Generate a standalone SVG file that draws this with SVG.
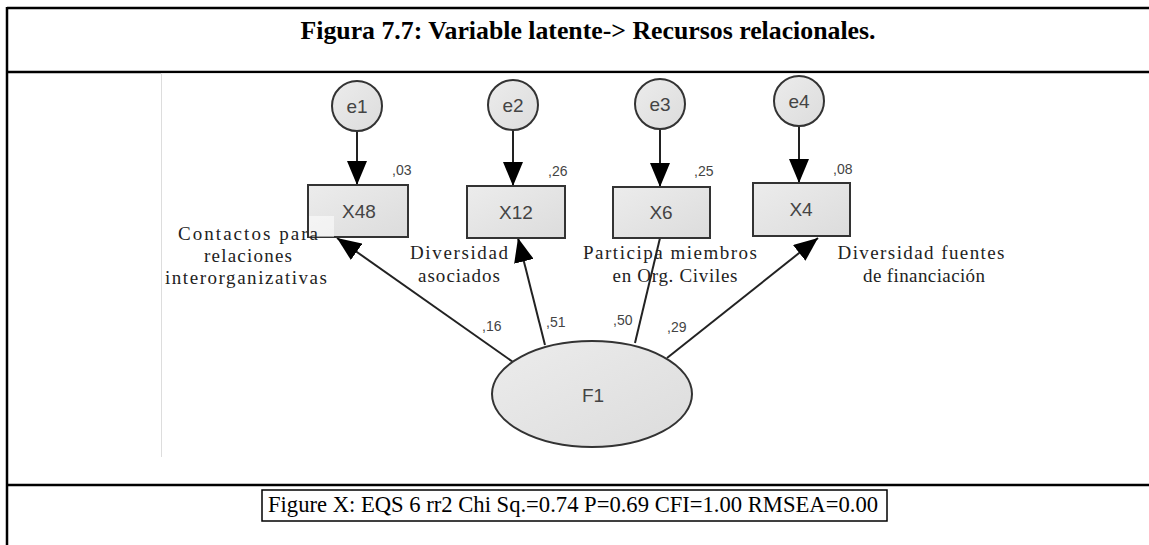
<svg xmlns="http://www.w3.org/2000/svg" width="1149" height="545" viewBox="0 0 1149 545">
<defs>
<style>
.frame{stroke:#000;stroke-width:2.5;fill:none}
.node{fill:url(#gr);stroke:#333;stroke-width:2}
.ntext{font-family:"Liberation Sans",Arial,sans-serif;font-size:19px;fill:#444;text-anchor:middle}
.coef{font-family:"Liberation Sans",Arial,sans-serif;font-size:14px;fill:#444}
.lab{font-family:"Liberation Serif","Times New Roman",serif;font-size:19px;fill:#222;text-anchor:middle}
.edge{stroke:#222;stroke-width:2;fill:none}
</style>
<linearGradient id="gr" x1="0" y1="0" x2="1" y2="1">
<stop offset="0" stop-color="#ececec"/>
<stop offset="1" stop-color="#dcdcdc"/>
</linearGradient>
<marker id="ahb" viewBox="0 0 24 20" refX="24" refY="10" markerWidth="24" markerHeight="20" markerUnits="userSpaceOnUse" orient="auto">
<path d="M0,0 L24,10 L0,20 z" fill="#000"/>
</marker>
</defs>
<rect width="1149" height="545" fill="#fff"/>
<g id="frame">
<line class="frame" x1="7" y1="8" x2="1149" y2="8"/>
<line class="frame" x1="7" y1="7" x2="7" y2="545"/>
<line class="frame" x1="7" y1="72" x2="1149" y2="72"/>
<line class="frame" x1="7" y1="485" x2="1149" y2="485"/>
<line x1="161.5" y1="73" x2="161.5" y2="457" stroke="#ddd" stroke-width="1"/>
<line x1="161" y1="73.5" x2="1010" y2="73.5" stroke="#e6e6e6" stroke-width="1"/>
</g>
<g id="title">
<text x="588" y="39" font-family="Liberation Serif,'Times New Roman',serif" font-weight="bold" font-size="26" text-anchor="middle" textLength="575" lengthAdjust="spacingAndGlyphs">Figura 7.7: Variable latente-&gt; Recursos relacionales.</text>
</g>
<g id="connectors">
<line class="edge" x1="357" y1="131" x2="357" y2="185" marker-end="url(#ahb)"/>
<line class="edge" x1="513" y1="130" x2="513" y2="186" marker-end="url(#ahb)"/>
<line class="edge" x1="660" y1="129" x2="660" y2="187" marker-end="url(#ahb)"/>
<line class="edge" x1="799" y1="126" x2="799" y2="183" marker-end="url(#ahb)"/>
<line class="edge" x1="513" y1="362" x2="337" y2="238" marker-end="url(#ahb)"/>
<line class="edge" x1="545" y1="345" x2="518" y2="238" marker-end="url(#ahb)"/>
<line class="edge" x1="635" y1="343" x2="660" y2="238"/>
<line class="edge" x1="667" y1="358" x2="818" y2="238" marker-end="url(#ahb)"/>
</g>
<g id="e1"><circle class="node" cx="357" cy="106" r="25"/><text class="ntext" x="357" y="113">e1</text></g>
<g id="e2"><circle class="node" cx="513" cy="105" r="25"/><text class="ntext" x="513" y="112">e2</text></g>
<g id="e3"><circle class="node" cx="660" cy="104" r="25"/><text class="ntext" x="660" y="111">e3</text></g>
<g id="e4"><circle class="node" cx="799" cy="101" r="25"/><text class="ntext" x="799" y="108">e4</text></g>
<g id="X48"><rect class="node" x="308" y="185" width="100" height="52"/><text class="ntext" x="359" y="218">X48</text></g>
<g id="X12"><rect class="node" x="467" y="186" width="98" height="52"/><text class="ntext" x="516" y="219">X12</text></g>
<g id="X6"><rect class="node" x="613" y="187" width="97" height="51"/><text class="ntext" x="661" y="219">X6</text></g>
<g id="X4"><rect class="node" x="753" y="183" width="97" height="53"/><text class="ntext" x="801" y="216">X4</text></g>
<g id="F1"><ellipse class="node" cx="592" cy="394" rx="100" ry="53"/><text class="ntext" x="593" y="402" font-size="21">F1</text></g>
<g id="coefs">
<text class="coef" x="392" y="175">,03</text>
<text class="coef" x="548" y="176">,26</text>
<text class="coef" x="694" y="176">,25</text>
<text class="coef" x="833" y="174">,08</text>
<text class="coef" x="482" y="331">,16</text>
<text class="coef" x="546" y="327">,51</text>
<text class="coef" x="613" y="325">,50</text>
<text class="coef" x="667" y="332">,29</text>
</g>
<g id="labels">
<rect x="309" y="216" width="25" height="21" fill="#fff" opacity="0.55"/>
<text class="lab" x="248" y="240" textLength="140" lengthAdjust="spacing">Contactos  para</text>
<text class="lab" x="248" y="262" textLength="88" lengthAdjust="spacing">relaciones</text>
<text class="lab" x="246" y="284" textLength="162" lengthAdjust="spacing">interorganizativas</text>
<text class="lab" x="459" y="259" textLength="98" lengthAdjust="spacing">Diversidad</text>
<text class="lab" x="459" y="282" textLength="82" lengthAdjust="spacing">asociados</text>
<text class="lab" x="670" y="259" textLength="174" lengthAdjust="spacing">Participa miembros</text>
<text class="lab" x="675" y="282" textLength="125" lengthAdjust="spacing">en Org. Civiles</text>
<text class="lab" x="921" y="259" textLength="167" lengthAdjust="spacing">Diversidad fuentes</text>
<text class="lab" x="924" y="282" textLength="122" lengthAdjust="spacing">de financiación</text>
</g>
<g id="caption">
<rect x="262" y="490" width="625" height="31" fill="#fff" stroke="#000" stroke-width="1.5"/>
<text x="268" y="512" font-family="Liberation Serif,'Times New Roman',serif" font-size="23" fill="#000" textLength="610" lengthAdjust="spacingAndGlyphs">Figure X: EQS 6 rr2 Chi Sq.=0.74 P=0.69 CFI=1.00 RMSEA=0.00</text>
</g>
</svg>
